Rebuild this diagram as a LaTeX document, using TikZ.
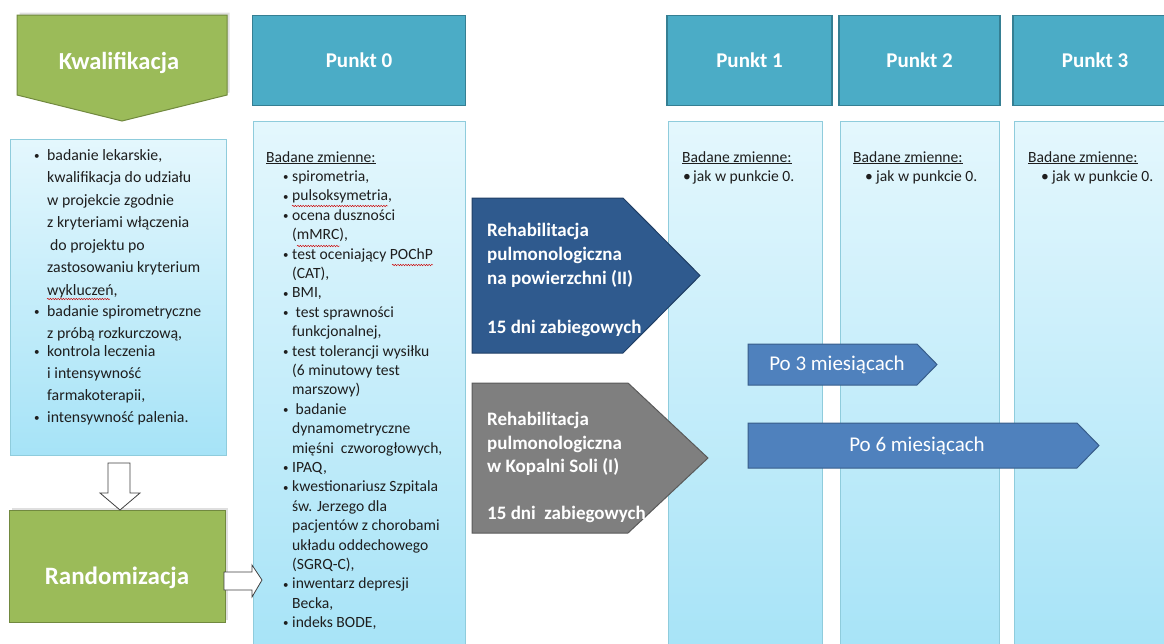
\documentclass[tikz,border=0pt]{standalone}
\usepackage{fontspec}
\setmainfont{Carlito}
\usetikzlibrary{decorations.pathmorphing,shadows}
\definecolor{grn}{HTML}{9BBB59}
\definecolor{grnb}{HTML}{71893F}
\definecolor{teal1}{HTML}{4BACC6}
\definecolor{tealb}{HTML}{357F93}
\definecolor{coltop}{HTML}{E4F7FD}
\definecolor{colbot}{HTML}{A6E3F7}
\definecolor{colb}{HTML}{8FCCDC}
\definecolor{dblue}{HTML}{2F5A8E}
\definecolor{dblueb}{HTML}{203F66}
\definecolor{gry}{HTML}{7F7F7F}
\definecolor{gryb}{HTML}{5A5A5A}
\definecolor{mblue}{HTML}{4F81BD}
\definecolor{mblueb}{HTML}{385D8A}
\definecolor{txt}{HTML}{1E1E1E}
\definecolor{hollowb}{HTML}{404040}
\newcommand\bl[1]{\makebox[#1][l]{\raisebox{0.8pt}{\scalebox{0.7}{•}}}}
\newcommand\blb[1]{\makebox[#1][l]{•}}
\begin{document}
\begin{tikzpicture}[x=1pt,y=-1pt,
  colbox/.style={draw=colb, line width=0.6pt, top color=coltop, bottom color=colbot},
  hdr/.style={fill=teal1, draw=tealb, line width=1.5pt, inner sep=0pt, text=white,
    minimum height=90pt, font=\fontsize{21}{24}\selectfont\bfseries},
  greenshape/.style={fill=grn, draw=grnb, line width=1pt,
    drop shadow={opacity=0.25, shadow xshift=2.5pt, shadow yshift=2.5pt}},
  title/.style={text=white, font=\fontsize{24.5}{28}\selectfont\bfseries},
  listtext/.style={anchor=north west, inner sep=0pt, align=left, text=txt},
  hollow/.style={fill=white, draw=hollowb, line width=0.8pt},
  rehab/.style={anchor=north west, inner sep=0pt, align=left, text=white,
    font=\fontsize{19}{24}\selectfont\bfseries},
  poarrow/.style={fill=mblue, draw=mblueb, line width=1pt},
  potext/.style={text=white, font=\fontsize{21}{24}\selectfont},
  squig/.style={draw=red!80!black, line width=0.45pt, decorate,
    decoration={snake, amplitude=0.7pt, segment length=2.6pt}}
]
\useasboundingbox (0,0) rectangle (1164,643);
\clip (0,0) rectangle (1164,643);

% columns
\path[colbox] (253,121) rectangle (465,660);
\path[colbox] (668,121) rectangle (822,660);
\path[colbox] (840,121) rectangle (999,660);
\path[colbox] (1014,121) rectangle (1175,660);
\path[colbox] (10,139) rectangle (226,455);

% headers
\node[hdr, minimum width=213pt] (p0) at (359,60.5) {Punkt 0};
\node[hdr, minimum width=165pt] (p1) at (749.5,60.5) {Punkt 1};
\node[hdr, minimum width=161pt] (p2) at (919.5,60.5) {Punkt 2};
\node[hdr, minimum width=164pt] (p3) at (1095,60.5) {Punkt 3};

% Kwalifikacja
\path[greenshape] (17,15) -- (227,15) -- (227,95) -- (122,121) -- (17,95) -- cycle;
\node[title] (kw) at (119,63) {Kwalifikacja};

% Randomizacja
\path[greenshape] (9,510) rectangle (225,622);
\node[title, font=\fontsize{25}{28}\selectfont\bfseries] (rand) at (117,578) {Randomizacja};

% hollow arrows
\path[hollow] (108,463) -- (130,463) -- (130,493) -- (140,493) -- (120,510) -- (100,493) -- (108,493) -- cycle;
\path[hollow] (224,572) -- (252,572) -- (252,565) -- (262,580) -- (252,597) -- (252,590) -- (224,590) -- cycle;

% left list
\node[listtext, font=\fontsize{15.8}{22}\selectfont] (klist) at (34,149) {%
\bl{13pt}badanie lekarskie,\\[0.5pt]
\hspace*{13pt}kwalifikacja\ do udziału\\[0.5pt]
\hspace*{13pt}w projekcie\ zgodnie\\[0.5pt]
\hspace*{13pt}z kryteriami włączenia\\[0.5pt]
\hspace*{16pt}do projektu po\\[0.5pt]
\hspace*{13pt}zastosowaniu kryterium\\[0.5pt]
\hspace*{13pt}wykluczeń,\\[-1pt]
\bl{13pt}badanie spirometryczne\\
\hspace*{13pt}z próbą\ rozkurczową,\\[-4pt]
\bl{13pt}kontrola\ leczenia\\
\hspace*{13pt}i intensywność\\
\hspace*{13pt}farmakoterapii,\\
\bl{13pt}intensywność\ palenia.};

% Punkt 0 list
\node[listtext, font=\fontsize{15.6}{19.4}\selectfont] (p0list) at (266,151) {%
\underline{Badane zmienne:}\\
\hspace*{17pt}\bl{9pt}spirometria,\\
\hspace*{17pt}\bl{9pt}pulsoksymetria,\\
\hspace*{17pt}\bl{9pt}ocena\ duszności\\
\hspace*{26pt}(mMRC),\\
\hspace*{17pt}\bl{9pt}test oceniający POChP\\
\hspace*{26pt}(CAT),\\
\hspace*{17pt}\bl{9pt}BMI,\\
\hspace*{17pt}\bl{9pt}\ test sprawności\\
\hspace*{26pt}funkcjonalnej,\\
\hspace*{17pt}\bl{9pt}test tolerancji\ wysiłku\\
\hspace*{26pt}(6 minutowy\ test\\
\hspace*{26pt}marszowy)\\
\hspace*{17pt}\bl{9pt}\ badanie\\
\hspace*{26pt}dynamometryczne\\
\hspace*{26pt}mięśni\ \ czworogłowych,\\
\hspace*{17pt}\bl{9pt}IPAQ,\\
\hspace*{17pt}\bl{9pt}kwestionariusz Szpitala\\
\hspace*{26pt}św. Jerzego dla\\
\hspace*{26pt}pacjentów\ z chorobami\\
\hspace*{26pt}układu oddechowego\\
\hspace*{26pt}(SGRQ-C),\\
\hspace*{17pt}\bl{9pt}inwentarz depresji\\
\hspace*{26pt}Becka,\\
\hspace*{17pt}\bl{9pt}indeks\ BODE,};

% Punkt 1-3 lists
\node[listtext, font=\fontsize{15.6}{19.4}\selectfont] (p1list) at (682,151) {%
\underline{Badane zmienne:}\\
\hspace*{1pt}\blb{10pt}jak w punkcie\ 0.};
\node[listtext, font=\fontsize{15.6}{19.4}\selectfont] (p2list) at (853,151) {%
\underline{Badane zmienne:}\\
\hspace*{12pt}\blb{11pt}jak w punkcie\ 0.};
\node[listtext, font=\fontsize{15.6}{19.4}\selectfont] (p3list) at (1028,151) {%
\underline{Badane zmienne:}\\
\hspace*{13pt}\blb{11pt}jak w punkcie\ 0.};

% spell-check squiggles
\path[squig] (47,299) -- (110,299);
\path[squig] (292,206) -- (388,206);
\path[squig] (297,246) -- (340,246);
\path[squig] (392,265) -- (433,265);

% Rehabilitacja arrows
\path[fill=dblue, draw=dblueb, line width=1pt] (472,198) -- (623,198) -- (700,275.5) -- (623,353) -- (472,353) -- cycle;
\node[rehab] (r2) at (487,223) {Rehabilitacja\\pulmonologiczna\\na powierzchni (II)\\[25pt]15 dni zabiegowych};
\path[fill=gry, draw=gryb, line width=1pt] (472,383) -- (628,383) -- (708,458) -- (628,533) -- (472,533) -- cycle;
\node[rehab, font=\fontsize{19}{23.5}\selectfont\bfseries] (r1) at (487,412) {Rehabilitacja\\pulmonologiczna\\w Kopalni Soli (I)\\[23.5pt]15 dni\ \ zabiegowych};

% Po arrows
\path[poarrow] (748,344) -- (917,344) -- (937,364.5) -- (917,385) -- (748,385) -- cycle;
\node[potext] (po3) at (837,364.5) {Po 3 miesiącach};
\path[poarrow] (748,423) -- (1077,423) -- (1099,445.5) -- (1077,468) -- (748,468) -- cycle;
\node[potext] (po6) at (917,446) {Po 6 miesiącach};
\end{tikzpicture}
\end{document}
